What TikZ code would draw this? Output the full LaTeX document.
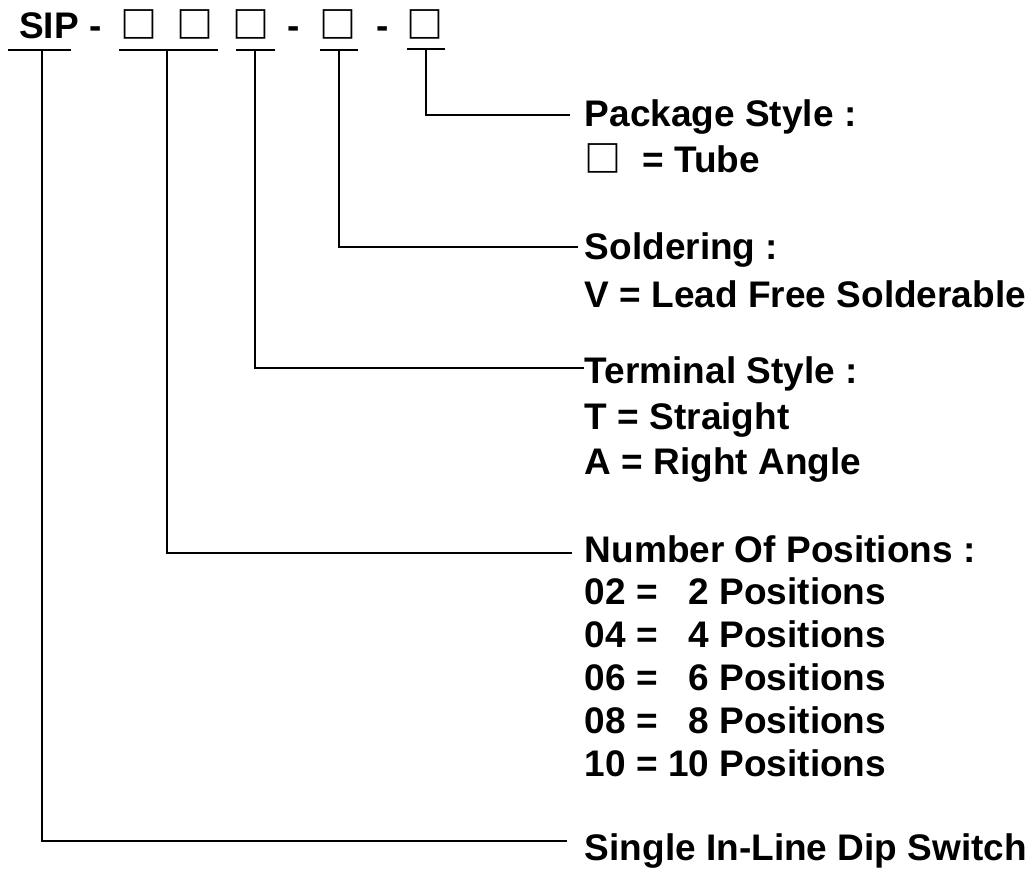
\documentclass[tikz,border=0pt]{standalone}
\usepackage{fontspec}
\setmainfont{Liberation Sans}
\newfontfamily\cjk{Noto Sans CJK SC}
\usetikzlibrary{positioning}

\newcommand{\sqbox}{{\cjk □}}

\begin{document}
\begin{tikzpicture}[x=1pt, y=-1pt, line width=1.8pt,
    every node/.style={inner sep=0pt, font=\fontsize{37}{44}\selectfont\bfseries},
    code/.style={anchor=base},
    title/.style={anchor=base west, text height=26pt, text depth=0pt},
    val/.style={anchor=base west}]
  \useasboundingbox (0,0) rectangle (1034,871);
  % part number
  \node[code] (sip) at (49,38) {SIP};
  \node[code] (d1) at (96,38) {-};
  \node[code] (b1) at (139,38) {\sqbox};
  \node[code] (b2) at (194.5,38) {\sqbox};
  \node[code] (b3) at (250.5,38) {\sqbox};
  \node[code] (d2) at (294,38) {-};
  \node[code] (b4) at (337.5,38) {\sqbox};
  \node[code] (d3) at (382.5,38) {-};
  \node[code] (b5) at (424.5,38) {\sqbox};
  % underlines
  \draw (8,50) -- (71,50);
  \draw (119,50) -- (218,50);
  \draw (236,50) -- (275,50);
  \draw (320,50) -- (358,50);
  \draw (407,49) -- (445,49);
  \coordinate (t1) at (42,50);
  \coordinate (t2) at (167,50);
  \coordinate (t3) at (255,50);
  \coordinate (t4) at (339,50);
  \coordinate (t5) at (426,49);
  % descriptions
  \node[title] (pkg) at (584,126) {Package Style :};
  \node[val] (pkgval) at (584,172) {\sqbox\ \ = Tube};
  \node[title] (sold) at (584,259) {Soldering :};
  \node[val] (soldval) at (584,307) {V = Lead Free Solderable};
  \node[title] (term) at (584,383) {Terminal Style :};
  \node[val] (termT) at (584,429) {T = Straight};
  \node[val] (termA) at (584,474) {A = Right Angle};
  \node[title] (num) at (584,562) {Number Of Positions :};
  \foreach \y/\txt in {604/02 = \phantom{1}2 Positions, 647/04 = \phantom{1}4 Positions,
      690/06 = \phantom{1}6 Positions, 733/08 = \phantom{1}8 Positions, 776/10 = 10 Positions}
    \node[val] (num\y) at (584,\y) {\txt};
  \node[title] (single) at (584,860) {Single In-Line Dip Switch};
  % leaders
  \draw[shorten >=14pt] (t5) |- ([yshift=-2pt]pkg.west);
  \draw[shorten >=6pt] (t4) |- ([yshift=-1pt]sold.west);
  \draw (t3) |- ([yshift=2pt]term.west);
  \draw[shorten >=12pt] (t2) |- ([yshift=-4pt]num.west);
  \draw[shorten >=17pt] (t1) |- ([yshift=6pt]single.west);
\end{tikzpicture}
\end{document}
